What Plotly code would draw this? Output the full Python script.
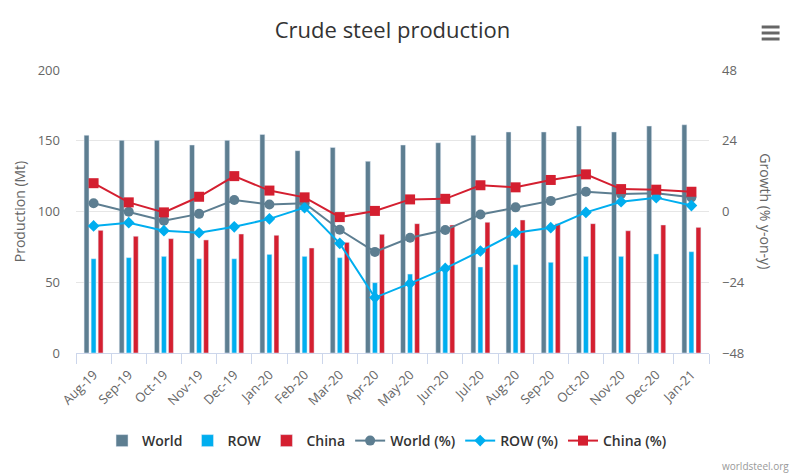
import plotly.graph_objects as go

months = ["Aug-19", "Sep-19", "Oct-19", "Nov-19", "Dec-19", "Jan-20", "Feb-20", "Mar-20", "Apr-20",
          "May-20", "Jun-20", "Jul-20", "Aug-20", "Sep-20", "Oct-20", "Nov-20", "Dec-20", "Jan-21"]

world = [153.9, 150.3, 150.3, 147.0, 150.3, 154.5, 143.0, 145.3, 135.5,
         147.0, 148.6, 153.8, 156.2, 156.2, 160.4, 156.2, 160.4, 161.3]
row = [66.6, 67.4, 68.3, 66.6, 66.6, 69.7, 68.3, 67.4, 49.7,
       55.8, 59.5, 60.8, 62.4, 64.1, 68.3, 68.3, 70.0, 71.6]
china = [86.7, 82.5, 80.8, 79.9, 84.1, 83.2, 74.2, 78.2, 83.9,
         91.4, 90.5, 92.4, 94.0, 91.4, 91.4, 86.4, 90.5, 88.8]

world_pct = [2.8, -0.1, -3.1, -0.8, 3.9, 2.4, 2.8, -6.2, -13.7,
             -8.9, -6.3, -1.0, 1.4, 3.6, 6.7, 5.9, 6.2, 4.8]
row_pct = [-4.9, -3.8, -6.5, -7.2, -5.2, -2.5, 1.3, -10.8, -29.2,
           -24.4, -19.3, -13.4, -7.2, -5.5, -0.3, 3.3, 4.7, 2.0]
china_pct = [9.6, 3.1, -0.3, 5.0, 12.0, 7.1, 4.8, -1.9, 0.2,
             4.1, 4.3, 8.9, 8.2, 10.7, 12.6, 7.6, 7.4, 6.7]

left_ticks = [0, 50, 100, 150, 200]
right_ticks = [-48, -24, 0, 24, 48]

C_WORLD = "#5d7e91"
C_ROW = "#00aeef"
C_CHINA = "#d41f30"
FONT = "Open Sans"

fig = go.Figure()
fig.add_bar(x=months, y=world, name="World", marker_color=C_WORLD, yaxis="y")
fig.add_bar(x=months, y=row, name="ROW", marker_color=C_ROW, yaxis="y")
fig.add_bar(x=months, y=china, name="China", marker_color=C_CHINA, yaxis="y")
fig.add_scatter(x=months, y=world_pct, name="World (%)", yaxis="y2", mode="lines+markers",
                line=dict(color=C_WORLD, width=2), marker=dict(symbol="circle", size=10, color=C_WORLD))
fig.add_scatter(x=months, y=row_pct, name="ROW (%)", yaxis="y2", mode="lines+markers",
                line=dict(color=C_ROW, width=2), marker=dict(symbol="diamond", size=9, color=C_ROW))
fig.add_scatter(x=months, y=china_pct, name="China (%)", yaxis="y2", mode="lines+markers",
                line=dict(color=C_CHINA, width=2), marker=dict(symbol="square", size=10, color=C_CHINA))

# page is offset by the default 8px body margin
OFF = 8
W, H = 800 - OFF, 475 - OFF
L, R, T, B = 72 - OFF, 91, 70 - OFF, 122
PW, PH = W - L - R, H - T - B


def px(x):
    return (x - OFF - L) / PW


def py(y):
    return (H - B - (y - OFF)) / PH


shapes = []
for yy in (27, 33, 39):
    shapes.append(dict(type="line", xref="paper", yref="paper", x0=px(762), x1=px(780),
                       y0=py(yy), y1=py(yy), line=dict(color="#666666", width=3)))

fig.update_layout(
    width=W, height=H,
    margin=dict(l=L, r=R, t=T, b=B),
    paper_bgcolor="white", plot_bgcolor="white",
    font=dict(family=FONT, color="#666666", size=12),
    title=dict(text="Crude steel production", x=0.5, xref="paper", y=py(30) * PH / H + B / H,
               yanchor="middle", font=dict(size=22, color="#333333", family=FONT)),
    barmode="group", bargap=0.4, bargroupgap=0.3,
    xaxis=dict(type="category", range=[-0.5, len(months) - 0.5], showline=True,
               linecolor="#ccd6eb", ticks="outside",
               tickson="boundaries", ticklen=10, tickcolor="#ccd6eb", tickangle=-45,
               ticklabelstandoff=8,
               tickfont=dict(size=13, color="#666666"), showgrid=False),
    yaxis=dict(range=[0, 200], tickvals=left_ticks, gridcolor="#e6e6e6", zeroline=False,
               ticklabelstandoff=15, tickfont=dict(size=13, color="#666666"),
               title=dict(text="Production (Mt)", font=dict(size=14, color="#666666"), standoff=8)),
    yaxis2=dict(range=[-48, 48], tickvals=right_ticks, overlaying="y", side="right",
                showgrid=False, zeroline=False, ticklabelstandoff=12,
                tickfont=dict(size=13, color="#666666")),
    legend=dict(orientation="h", x=px(385), xanchor="center", y=py(441), yanchor="middle",
                font=dict(size=14, color="#333333", weight=600), traceorder="normal",
                itemwidth=30),
    shapes=shapes,
    annotations=[
        dict(text="Growth (% y-on-y)", textangle=90, xref="paper", yref="paper",
             x=px(766), y=py(211), xanchor="center", yanchor="middle", showarrow=False,
             font=dict(size=14, color="#666666")),
        dict(text="worldsteel.org", xref="paper", yref="paper", x=px(792), y=py(466),
             xanchor="right", yanchor="middle", showarrow=False,
             font=dict(size=10, color="#999999")),
    ],
)

fig.write_html("out.html")
